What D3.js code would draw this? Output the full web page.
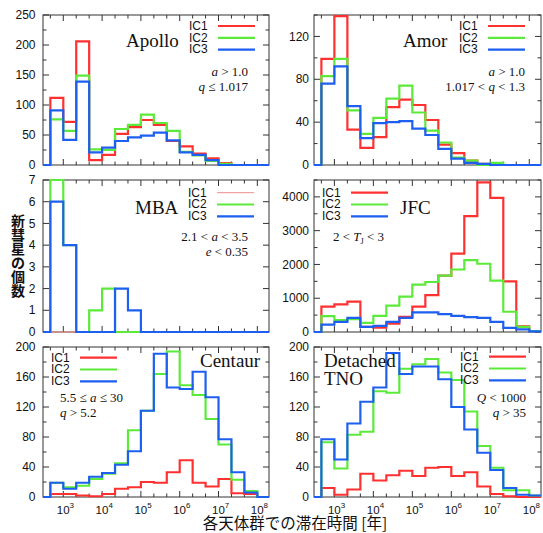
<!DOCTYPE html>
<html>
<head>
<meta charset="utf-8">
<script src="https://cdn.jsdelivr.net/npm/d3@7"></script>
<style>
  body { margin: 0; background: #fff; }
  text { font-family: "Liberation Sans", Arial, sans-serif; }
  .serif { font-family: "Liberation Serif", "Times New Roman", serif; }
  .jp { font-family: "Noto Sans CJK JP", sans-serif; }
</style>
</head>
<body>
<div id="chart"></div>
<script>
// Bin edges: 1/3 decade from 10^(8/3) to 10^(25/3)
let binEdges = d3.range(18).map(i => Math.pow(10, 8 / 3 + i / 3));
let xTicksMajor = [1e3, 1e4, 1e5, 1e6, 1e7, 1e8];
let seriesNames = ['IC1', 'IC2', 'IC3'];

// Counts per bin (17 bins)
let apolloIC1 = [112, 72, 206, 8, 17, 52, 63, 75, 67, 40, 31, 19, 11, 3, 0, 0, 0];
let apolloIC2 = [76, 57, 149, 26, 25, 60, 67, 84, 70, 57, 22, 16, 7, 2, 0, 0, 0];
let apolloIC3 = [91, 42, 139, 21, 29, 40, 46, 49, 54, 41, 21, 17, 8, 0, 0, 0, 0];

let amorIC1 = [99, 139, 33, 16, 26, 54, 61, 56, 42, 19, 11, 4, 1, 0, 0, 0, 0];
let amorIC2 = [83, 99, 51, 29, 44, 62, 74, 49, 32, 21, 7, 4, 0, 2, 0, 0, 0];
let amorIC3 = [76, 92, 55, 25, 39, 40, 41, 34, 28, 15, 6, 2, 1, 0, 0, 0, 0];

let mbaIC1 = [0, 0, 0, 0, 0, 0, 0, 0, 0, 0, 0, 0, 0, 0, 0, 0, 0];
let mbaIC2 = [7, 4, 0, 1, 2, 0, 0, 0, 0, 0, 0, 0, 0, 0, 0, 0, 0];
let mbaIC3 = [6, 4, 0, 0, 0, 2, 1, 0, 0, 0, 0, 0, 0, 0, 0, 0, 0];

let jfcIC1 = [750, 820, 900, 150, 130, 250, 450, 750, 1090, 1670, 2320, 3430, 4430, 3970, 1500, 170, 30];
let jfcIC2 = [470, 350, 380, 270, 480, 780, 1050, 1400, 1480, 1670, 1850, 2130, 2020, 1520, 600, 150, 30];
let jfcIC3 = [220, 300, 420, 150, 180, 300, 420, 580, 580, 530, 480, 440, 420, 300, 120, 80, 20];

let centaurIC1 = [4, 4, 2, 1, 4, 11, 13, 20, 19, 33, 49, 19, 14, 24, 5, 4, 0];
let centaurIC2 = [19, 13, 15, 24, 31, 45, 89, 115, 164, 194, 149, 136, 104, 70, 23, 8, 0];
let centaurIC3 = [19, 11, 19, 27, 32, 43, 61, 115, 191, 146, 144, 167, 133, 77, 33, 6, 0];

let detachedIC1 = [12, 3, 10, 31, 22, 29, 35, 28, 39, 40, 28, 33, 14, 4, 1, 0, 0];
let detachedIC2 = [73, 38, 83, 87, 141, 139, 171, 177, 184, 166, 156, 114, 68, 39, 9, 9, 2];
let detachedIC3 = [77, 50, 98, 127, 146, 192, 164, 174, 174, 157, 120, 90, 59, 36, 12, 3, 2];

const colors = ['#ff3030', '#5cea3a', '#1d5ff0'];

const cols = [[43, 269], [314, 541]];
const rows = [[15, 165], [180, 332], [347, 497]];

const panels = [
  { row: 0, col: 0, series: [apolloIC1, apolloIC2, apolloIC3], yMax: 250, major: 50, minor: 25,
    title: [['Apollo', 126, 47]], leg: [146, 14.8],
    notes: [[[['a', 1], [' > 1.0', 0]], 248, 75.5, 'end'], [[['q', 1], [' ≤ 1.017', 0]], 248, 90.5, 'end']] },
  { row: 0, col: 1, series: [amorIC1, amorIC2, amorIC3], yMax: 140, major: 40, minor: 20,
    title: [['Amor', 403, 47]], leg: [145, 14.8],
    notes: [[[['a', 1], [' > 1.0', 0]], 525, 75.5, 'end'], [[['1.017 < ', 0], ['q', 1], [' < 1.3', 0]], 525, 90.5, 'end']] },
  { row: 1, col: 0, series: [mbaIC1, mbaIC2, mbaIC3], yMax: 7, major: 1, minor: 1,
    title: [['MBA', 135, 214]], leg: [145, 16.5], thinRed: true,
    notes: [[[['2.1 < ', 0], ['a', 1], [' < 3.5', 0]], 248, 240.5, 'end'], [[['e', 1], [' < 0.35', 0]], 248, 256, 'end']] },
  { row: 1, col: 1, series: [jfcIC1, jfcIC2, jfcIC3], yMax: 4500, major: 1000, minor: 500,
    title: [['JFC', 400, 214]], leg: [8, 16.5],
    notes: [[[['2 < ', 0], ['T', 1], ['J', 2], [' < 3', 0]], 333, 240.5, 'start']] },
  { row: 2, col: 0, series: [centaurIC1, centaurIC2, centaurIC3], yMax: 200, major: 40, minor: 20,
    title: [['Centaur', 200, 367]], leg: [8, 14.5],
    notes: [[[['5.5 ≤ ', 0], ['a', 1], [' ≤ 30', 0]], 60, 402, 'start'], [[['q', 1], [' > 5.2', 0]], 60, 417, 'start']] },
  { row: 2, col: 1, series: [detachedIC1, detachedIC2, detachedIC3], yMax: 200, major: 40, minor: 20,
    title: [['Detached', 324, 367], ['TNO', 324, 385]], leg: [146, 13.5],
    notes: [[[['Q', 1], [' < 1000', 0]], 526, 402, 'end'], [[['q', 1], [' > 35', 0]], 526, 417, 'end']] }
];

const svg = d3.select('#chart').append('svg')
  .attr('width', 543).attr('height', 533);

panels.forEach((p, pi) => {
  const [x0, x1] = cols[p.col];
  const [y0, y1] = rows[p.row];
  const x = d3.scaleLog().domain([300, 2e8]).range([x0, x1]);
  const y = d3.scaleLinear().domain([0, p.yMax]).range([y1, y0]);
  const g = svg.append('g');

  // frame
  g.append('rect')
    .attr('x', x0).attr('y', y0).attr('width', x1 - x0).attr('height', y1 - y0)
    .attr('fill', 'none').attr('stroke', '#333').attr('stroke-width', 1);

  // x ticks (inward, mirrored), every 1/3 decade
  const xMinor = d3.range(8, 26).map(i => Math.pow(10, i / 3)).filter(v => v >= 300 && v <= 2e8);
  xMinor.forEach(v => {
    const isMajor = xTicksMajor.some(t => Math.abs(Math.log10(t) - Math.log10(v)) < 1e-6);
    const len = isMajor ? 6 : 3.5;
    g.append('line').attr('x1', x(v)).attr('x2', x(v)).attr('y1', y1).attr('y2', y1 - len)
      .attr('stroke', '#333');
    g.append('line').attr('x1', x(v)).attr('x2', x(v)).attr('y1', y0).attr('y2', y0 + len)
      .attr('stroke', '#333');
  });

  // y ticks
  d3.range(0, p.yMax + 1e-9, p.minor).forEach(v => {
    const isMajor = Math.abs(v / p.major - Math.round(v / p.major)) < 1e-9;
    const len = isMajor ? 6 : 3.5;
    g.append('line').attr('x1', x0).attr('x2', x0 + len).attr('y1', y(v)).attr('y2', y(v)).attr('stroke', '#333');
    g.append('line').attr('x1', x1).attr('x2', x1 - len).attr('y1', y(v)).attr('y2', y(v)).attr('stroke', '#333');
    if (isMajor) {
      g.append('text').attr('x', x0 - (p.col === 0 ? 7.5 : 5)).attr('y', y(v) + 4.2)
        .attr('text-anchor', 'end').attr('font-size', 12).attr('fill', '#111').text(v);
    }
  });

  // x tick labels only on bottom row
  if (p.row === 2) {
    xTicksMajor.forEach(t => {
      const tx = g.append('text').attr('x', x(t) - 6.5).attr('y', 514)
        .attr('font-size', 11.5).attr('fill', '#111');
      tx.append('tspan').text('10');
      tx.append('tspan').attr('dy', -6.5).attr('font-size', 8).text(Math.round(Math.log10(t)));
    });
  }

  // clip
  const clipId = 'clip' + pi;
  svg.append('clipPath').attr('id', clipId).append('rect')
    .attr('x', x0).attr('y', y0 - 1.5).attr('width', x1 - x0).attr('height', y1 - y0 + 3);

  const line = d3.line().x(d => x(d[0])).y(d => y(d[1])).curve(d3.curveStepAfter);

  p.series.forEach((vals, si) => {
    const pts = [[300, 0]];
    vals.forEach((v, i) => pts.push([binEdges[i], v]));
    pts.push([binEdges[vals.length], 0]);
    pts.push([4e8, 0]);
    const thin = p.thinRed && si === 0;
    g.append('path').datum(pts)
      .attr('clip-path', `url(#${clipId})`)
      .attr('d', line)
      .attr('fill', 'none')
      .attr('stroke', thin ? '#f08a8a' : colors[si])
      .attr('stroke-width', thin ? 1 : 2.2);
  });

  // legend
  const lx = x0 + p.leg[0];
  seriesNames.forEach((name, si) => {
    const by = y0 + p.leg[1] + si * 11.8;
    g.append('text').attr('x', lx).attr('y', by).attr('font-size', 12).attr('fill', '#111').text(name);
    const thin = p.thinRed && si === 0;
    g.append('line').attr('x1', lx + 29).attr('x2', lx + 66)
      .attr('y1', by - 3.8).attr('y2', by - 3.8)
      .attr('stroke', thin ? '#f08a8a' : colors[si]).attr('stroke-width', thin ? 1 : 2.2);
  });

  // title
  p.title.forEach(([t, tx, ty]) => {
    g.append('text').attr('class', 'serif').attr('x', tx).attr('y', ty)
      .attr('font-size', 19).attr('fill', '#111').text(t);
  });

  // notes
  p.notes.forEach(([parts, nx, ny, anchor]) => {
    const t = g.append('text').attr('class', 'serif').attr('x', nx).attr('y', ny)
      .attr('text-anchor', anchor).attr('font-size', 13).attr('fill', '#111');
    parts.forEach(([s, style]) => {
      const ts = t.append('tspan').text(s);
      if (style === 1) ts.attr('font-style', 'italic');
      if (style === 2) ts.attr('font-size', 8).attr('dy', 3);
      if (style === 0 && s.startsWith(' <') && parts.some(q => q[1] === 2)) ts.attr('dy', -3);
    });
  });
});

// axis titles
const yLabel = '新彗星の個数'.split('');
yLabel.forEach((c, i) => {
  svg.append('text').attr('class', 'jp').attr('x', 18).attr('y', 220 + i * 13.9)
    .attr('text-anchor', 'middle').attr('dominant-baseline', 'central')
    .attr('font-size', 14).attr('font-weight', 'bold').attr('fill', '#111').text(c);
});

svg.append('text').attr('class', 'jp').attr('x', 295).attr('y', 529)
  .attr('text-anchor', 'middle').attr('font-size', 15.5).attr('fill', '#111')
  .text('各天体群での滞在時間 [年]');
</script>
</body>
</html>
